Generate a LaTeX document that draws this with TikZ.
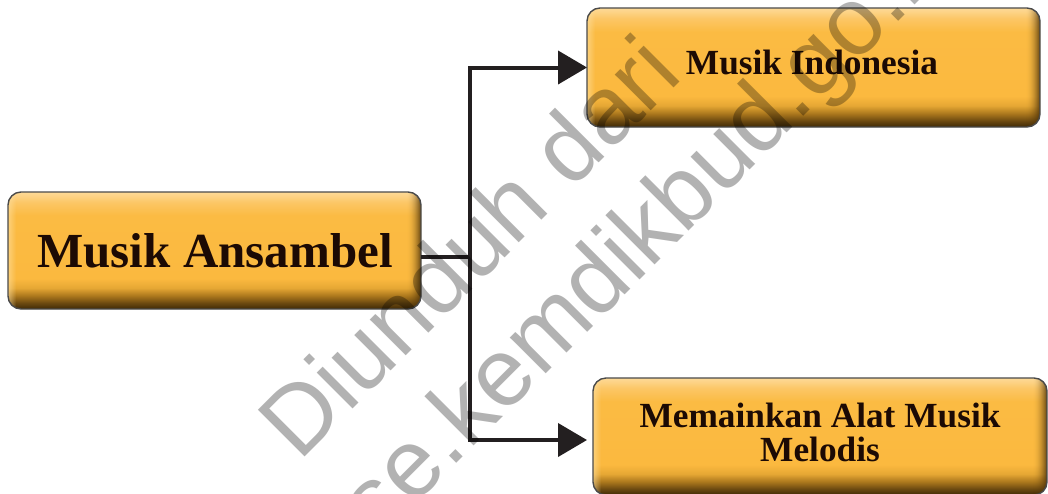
\documentclass[tikz,border=0pt]{standalone}
\usepackage{fontspec}
\setmainfont{Liberation Serif}
\newfontfamily\wmfont{Liberation Sans}
\usetikzlibrary{arrows.meta}
\definecolor{sA}{HTML}{3F2A06}
\definecolor{sB}{HTML}{6A4810}
\definecolor{sC}{HTML}{A8751C}
\definecolor{sD}{HTML}{E6A734}
\definecolor{sE}{HTML}{FBB93F}
\definecolor{sF}{HTML}{FBBB43}
\definecolor{sG}{HTML}{FCC665}
\definecolor{sH}{HTML}{FDDA98}
\definecolor{edgedark}{HTML}{4A3008}
\definecolor{edgelight}{HTML}{FEE3A8}
\definecolor{boxborder}{HTML}{4A4A4A}
\definecolor{linecol}{HTML}{231F20}
\definecolor{textcol}{HTML}{1C0A04}
\definecolor{wmgray}{HTML}{B2B2B2}
% the path's bounding box covers the 25bp--75bp part of a shading
\pgfdeclareverticalshading{boxv}{100bp}{color(0bp)=(sA); color(25bp)=(sA); color(27.5bp)=(sB); color(30.5bp)=(sC); color(34bp)=(sD); color(38bp)=(sE); color(65bp)=(sF); color(70.5bp)=(sG); color(75bp)=(sH); color(100bp)=(sH)}
\tikzset{
  boxnode/.style={rectangle, rounded corners=13pt, inner sep=0pt, outer sep=0pt,
    shade, shading=boxv},
  boxrim/.style={draw=boxborder, line width=1.4pt, rounded corners=13pt},
  lbl/.style={inner sep=0pt, outer sep=0pt, text=textcol},
  conn/.style={draw=linecol, line width=4pt, line join=miter},
  tip/.style={-{Triangle[length=29pt,width=33pt]}},
  wm/.style={inner sep=0pt, outer sep=0pt, text=wmgray, font=\wmfont\fontsize{96}{100}\selectfont}
}
\newcommand\boxedges[1]{%
  \begin{scope}
    \clip[rounded corners=13pt] (#1.north west) rectangle (#1.south east);
    \foreach \i in {0,...,13}{%
      \pgfmathsetmacro\op{0.75*(1-\i/14)^2}
      \fill[edgedark, fill opacity=\op] ([xshift=-\i pt]#1.north east) rectangle ([xshift=-\i pt-1.1pt]#1.south east);
    }
    \foreach \i in {0,...,7}{%
      \pgfmathsetmacro\op{0.55*(1-\i/8)}
      \fill[edgelight, fill opacity=\op] ([xshift=\i pt]#1.north west) rectangle ([xshift=\i pt+1.1pt]#1.south west);
    }
  \end{scope}
  \draw[boxrim] (#1.north west) rectangle (#1.south east);
}
\begin{document}
\begin{tikzpicture}[x=1pt,y=-1pt]
\fill[white] (0,0) rectangle (1048,493);
\useasboundingbox (0,0) rectangle (1048,493);
% boxes
\node[boxnode, minimum width=413pt, minimum height=117pt] (a) at (214.5,250.5) {};
\node[boxnode, minimum width=453pt, minimum height=119pt] (b) at (813.5,67.5) {};
\node[boxnode, minimum width=454pt, minimum height=117pt] (c) at (820,436.5) {};
\boxedges{a}
\boxedges{b}
\boxedges{c}
% labels
\node[lbl, anchor=base, font=\fontsize{49}{50}\selectfont\bfseries] (ta) at (215,267) {Musik Ansambel};
\node[lbl, anchor=base, font=\fontsize{35.3}{34}\selectfont\bfseries] (tb) at (812,74) {Musik Indonesia};
\node[lbl, align=center, font=\fontsize{35.3}{34}\selectfont\bfseries] (tc) at (820,432.2) {Memainkan Alat Musik\\Melodis};
% connectors
\coordinate (j) at (470,257);
\coordinate (ct) at (587,440);
\draw[conn] (a.east |- j) -- (j);
\draw[conn, tip] (j) |- (b.west);
\draw[conn, tip] (j) |- (ct);
% watermark
\begin{scope}[blend mode=multiply]
\node[wm, anchor=base west, rotate=45] (wm1) at (299.7,462.3) {Diunduh dari};
\node[wm, anchor=base west, rotate=45] (wm2) at (341.2,578.8) {bse.kemdikbud.go.id};
\end{scope}
\end{tikzpicture}
\end{document}
